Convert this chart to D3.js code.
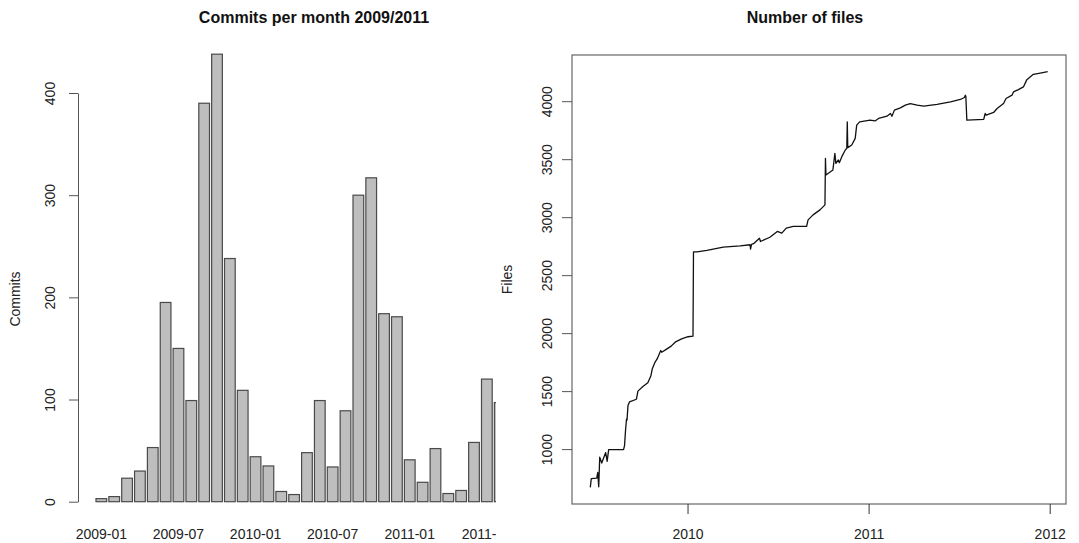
<!DOCTYPE html>
<html>
<head>
<meta charset="utf-8">
<script src="https://cdn.jsdelivr.net/npm/d3@7"></script>
<style>
  html, body { margin: 0; padding: 0; background: #fff; }
  svg { display: block; font-family: "Liberation Sans", Arial, Helvetica, sans-serif; }
  .title { font-weight: bold; font-size: 16px; fill: #111; }
  .lab { font-size: 14px; fill: #222; }
</style>
</head>
<body>
<svg id="chart" width="1079" height="543"></svg>
<script>
// ---- Commits per month ----
const months = [
  "2009-01","2009-02","2009-03","2009-04","2009-05","2009-06","2009-07","2009-08",
  "2009-09","2009-10","2009-11","2009-12","2010-01","2010-02","2010-03","2010-04",
  "2010-05","2010-06","2010-07","2010-08","2010-09","2010-10","2010-11","2010-12",
  "2011-01","2011-02","2011-03","2011-04","2011-05","2011-06","2011-07","2011-08"
];
const commits = [
  3, 5, 23, 30, 53, 195, 150, 99,
  390, 438, 238, 109, 44, 35, 10, 7,
  48, 99, 34, 89, 300, 317, 184, 181,
  41, 19, 52, 8, 11, 58, 120, 97
];
const commitTicks = [0, 100, 200, 300, 400];
const monthLabels = ["2009-01","2009-07","2010-01","2010-07","2011-01","2011-07"];

// ---- Number of files over time ----
const fileDates = [
  "2009-06-19","2009-06-21","2009-07-02","2009-07-04","2009-07-06","2009-07-08","2009-07-12",
  "2009-07-20","2009-07-23","2009-07-26","2009-08-25","2009-08-27","2009-08-29","2009-08-31",
  "2009-09-01","2009-09-03","2009-09-06","2009-09-20","2009-09-23","2009-10-03","2009-10-13",
  "2009-10-19","2009-10-22","2009-10-27","2009-11-01","2009-11-08","2009-11-10","2009-11-19",
  "2009-11-29","2009-12-07","2009-12-20","2010-01-02","2010-01-12","2010-01-13","2010-01-20",
  "2010-02-09","2010-03-14","2010-04-17","2010-05-07","2010-05-08","2010-05-10","2010-05-14",
  "2010-05-26","2010-05-28","2010-06-16","2010-07-01","2010-07-10","2010-07-19","2010-08-02",
  "2010-08-29","2010-09-01","2010-09-11","2010-09-25","2010-10-05","2010-10-06","2010-10-07",
  "2010-10-21","2010-10-25","2010-10-27","2010-11-01","2010-11-03","2010-11-08","2010-11-15",
  "2010-11-18","2010-11-19","2010-11-20","2010-11-28","2010-12-05","2010-12-08","2010-12-14",
  "2011-01-04","2011-01-14","2011-01-21","2011-02-07","2011-02-14","2011-02-17","2011-02-22",
  "2011-03-06","2011-03-16","2011-03-26","2011-04-09","2011-04-22","2011-05-19","2011-06-15",
  "2011-07-05","2011-07-13","2011-07-15","2011-07-16","2011-07-18","2011-08-21","2011-08-24",
  "2011-08-26","2011-09-10","2011-09-17","2011-09-30","2011-10-05","2011-10-17","2011-10-20",
  "2011-10-30","2011-11-09","2011-11-16","2011-11-29","2011-12-13","2011-12-28"
];
const fileCounts = [
  670, 745, 750, 800, 675, 930, 880,
  970, 895, 995, 995, 1030, 1160, 1260,
  1250, 1375, 1407, 1430, 1500, 1540, 1573,
  1630, 1693, 1745, 1780, 1850, 1835, 1860,
  1888, 1922, 1951, 1969, 1974, 2700, 2700,
  2713, 2742, 2753, 2762, 2725, 2765, 2771,
  2819, 2790, 2827, 2877, 2862, 2905, 2920,
  2920, 2977, 3020, 3063, 3106, 3507, 3364,
  3407, 3550, 3464, 3493, 3470, 3522, 3579,
  3593, 3822, 3600, 3622, 3679, 3794, 3822,
  3837, 3830, 3851, 3871, 3894, 3870, 3923,
  3943, 3966, 3980, 3966, 3957, 3972, 3995,
  4015, 4032, 4052, 4040, 3837, 3843, 3894,
  3880, 3903, 3937, 3980, 4023, 4052, 4080,
  4100, 4123, 4186, 4232, 4243, 4255
];
const fileTicks = [1000, 1500, 2000, 2500, 3000, 3500, 4000];
const yearTicks = ["2010-01-01", "2011-01-01", "2012-01-01"];

const svg = d3.select("#chart");
const AXIS = "#555";

// ================= Left panel: bar chart =================
const left = { x0: 78, clipRight: 496, yTop: 93, yZero: 501.7 };
const step = 12.85;
const x0Band = 96 - step / 12;

const xBand = d3.scaleBand()
  .domain(months)
  .range([x0Band, x0Band + months.length * step])
  .paddingInner(1 / 6)
  .paddingOuter(1 / 12);

const yBar = d3.scaleLinear().domain([0, 400]).range([left.yZero, left.yTop]);

svg.append("defs").append("clipPath").attr("id", "leftClip")
  .append("rect").attr("x", 0).attr("y", 0)
  .attr("width", left.clipRight).attr("height", 543);

const barG = svg.append("g").attr("clip-path", "url(#leftClip)");
barG.selectAll("rect.bar")
  .data(months.map((m, i) => ({ m, v: commits[i] })))
  .join("rect")
  .attr("class", "bar")
  .attr("x", d => xBand(d.m))
  .attr("width", xBand.bandwidth())
  .attr("y", d => yBar(d.v))
  .attr("height", d => yBar(0) - yBar(d.v))
  .attr("fill", "#bebebe")
  .attr("stroke", "#4a4a4a")
  .attr("stroke-width", 1.2);

// month labels under the bars (no axis line, as in a plain barplot)
barG.selectAll("text.mlab")
  .data(monthLabels)
  .join("text")
  .attr("class", "lab mlab")
  .attr("x", d => xBand(d) + xBand.bandwidth() / 2)
  .attr("y", 539)
  .attr("text-anchor", "middle")
  .text(d => d);

// y axis
const yAxisL = svg.append("g")
  .attr("transform", `translate(${left.x0},0)`)
  .call(d3.axisLeft(yBar).tickValues(commitTicks).tickFormat(d3.format("d"))
    .tickSize(9).tickSizeOuter(0));
yAxisL.select(".domain").attr("stroke", AXIS);
yAxisL.selectAll(".tick line").attr("stroke", AXIS);
yAxisL.selectAll(".tick text")
  .attr("class", "lab")
  .attr("transform", "rotate(-90)")
  .attr("x", 0).attr("y", -23).attr("dy", 0)
  .style("text-anchor", "middle")
  .style("font-size", "14px")
  .style("font-family", "inherit");

svg.append("text").attr("class", "lab")
  .attr("transform", "translate(20,299) rotate(-90)")
  .attr("text-anchor", "middle")
  .text("Commits");

svg.append("text").attr("class", "title")
  .attr("x", 314).attr("y", 23)
  .attr("text-anchor", "middle")
  .text("Commits per month 2009/2011");

// ================= Right panel: line chart =================
const box = { left: 572, right: 1066, top: 55, bottom: 504 };
const parse = d3.utcParse("%Y-%m-%d");
const series = fileDates.map((d, i) => ({ t: parse(d), v: fileCounts[i] }));

// 4% padding on both scales
const tExt = d3.extent(series, d => +d.t);
const tPad = (tExt[1] - tExt[0]) * 0.04;
const vExt = d3.extent(series, d => d.v);
const vPad = (vExt[1] - vExt[0]) * 0.04;

const xTime = d3.scaleUtc()
  .domain([new Date(tExt[0] - tPad), new Date(tExt[1] + tPad)])
  .range([box.left, box.right]);
const yFiles = d3.scaleLinear()
  .domain([vExt[0] - vPad, vExt[1] + vPad])
  .range([box.bottom, box.top]);

svg.append("rect")
  .attr("x", box.left).attr("y", box.top)
  .attr("width", box.right - box.left).attr("height", box.bottom - box.top)
  .attr("fill", "none").attr("stroke", "#666").attr("stroke-width", 1.2);

svg.append("path")
  .datum(series)
  .attr("fill", "none")
  .attr("stroke", "#111")
  .attr("stroke-width", 1.3)
  .attr("stroke-linejoin", "round")
  .attr("d", d3.line().x(d => xTime(d.t)).y(d => yFiles(d.v)));

const xAxisR = svg.append("g")
  .attr("transform", `translate(0,${box.bottom})`)
  .call(d3.axisBottom(xTime).tickValues(yearTicks.map(parse))
    .tickFormat(d3.utcFormat("%Y")).tickSize(10).tickSizeOuter(0));
xAxisR.select(".domain").remove();
xAxisR.selectAll(".tick line").attr("stroke", "#333");
xAxisR.selectAll(".tick text")
  .attr("class", "lab")
  .attr("y", 35).attr("dy", 0)
  .style("font-size", "14px")
  .style("font-family", "inherit");

const yAxisR = svg.append("g")
  .attr("transform", `translate(${box.left},0)`)
  .call(d3.axisLeft(yFiles).tickValues(fileTicks).tickFormat(d3.format("d"))
    .tickSize(10).tickSizeOuter(0));
yAxisR.select(".domain").remove();
yAxisR.selectAll(".tick line").attr("stroke", AXIS);
yAxisR.selectAll(".tick text")
  .attr("class", "lab")
  .attr("transform", "rotate(-90)")
  .attr("x", 0).attr("y", -20).attr("dy", 0)
  .style("text-anchor", "middle")
  .style("font-size", "14px")
  .style("font-family", "inherit");

svg.append("text").attr("class", "lab")
  .attr("transform", `translate(512,${(box.top + box.bottom) / 2}) rotate(-90)`)
  .attr("text-anchor", "middle")
  .text("Files");

svg.append("text").attr("class", "title")
  .attr("x", 805).attr("y", 23)
  .attr("text-anchor", "middle")
  .text("Number of files");
</script>
</body>
</html>
